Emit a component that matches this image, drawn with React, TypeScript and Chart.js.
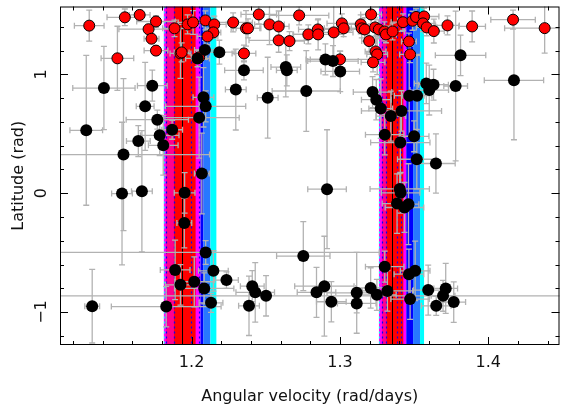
import { useEffect, useRef } from "react";
import { Chart, registerables } from "chart.js";
Chart.register(...registerables);

// Axis ranges
const X_MIN = 1.1113;
const X_MAX = 1.448;
const Y_MIN = -1.277;
const Y_MAX = 1.571;

const xMajorTicks = [1.2, 1.3, 1.4];
const xTickLabels = ["1.2", "1.3", "1.4"];
const xMinorTicks = [1.12, 1.14, 1.16, 1.18, 1.22, 1.24, 1.26, 1.28, 1.32, 1.34, 1.36, 1.38, 1.42, 1.44];
const yMajorTicks = [-1, 0, 1];
const yTickLabels = ["\u22121", "0", "1"];
const yMinorTicks = [-1.2, -0.8, -0.6, -0.4, -0.2, 0.2, 0.4, 0.6, 0.8, 1.2, 1.4];

const xTitle = "Angular velocity (rad/days)";
const yTitle = "Latitude (rad)";

// Vertical bands: [from, to, colour]
const bands: [number, number, string][] = [
  [1.1813, 1.206, "#FF00FF"],
  [1.1827, 1.188, "#FF0090"],
  [1.188, 1.2027, "#FF0000"],
  [1.206, 1.208, "#0000FF"],
  [1.208, 1.2127, "#2878FF"],
  [1.2127, 1.2167, "#00FFFF"],
  [1.3263, 1.3447, "#FF00FF"],
  [1.3283, 1.3313, "#FF0090"],
  [1.3313, 1.3427, "#FF0000"],
  [1.3447, 1.3493, "#0000FF"],
  [1.3493, 1.354, "#2878FF"],
  [1.354, 1.3567, "#00FFFF"],
];
const centreLines = [1.1933, 1.3353];
const dottedBlueLines = [1.1825, 1.188, 1.1993, 1.2047, 1.3283, 1.3313, 1.3387, 1.3413];
const dottedCyanLines = [1.1813, 1.3263];

// [x, y, xErr, yErr]
const redPoints: number[][] = [
  [1.131, 1.41, 0.01, 0.13],
  [1.155, 1.48, 0.012, 0.07],
  [1.165, 1.5, 0.007, 0.04],
  [1.176, 1.445, 0.013, 0.05],
  [1.171, 1.38, 0.02, 0.04],
  [1.173, 1.3, 0.005, 0.04],
  [1.176, 1.2, 0.008, 0.04],
  [1.15, 1.135, 0.011, 0.27],
  [1.1885, 1.387, 0.008, 0.07],
  [1.1925, 1.176, 0.007, 0.21],
  [1.1933, 1.185, 0.005, 0.08],
  [1.1973, 1.42, 0.007, 0.08],
  [1.201, 1.437, 0.01, 0.1],
  [1.2093, 1.454, 0.007, 0.08],
  [1.2153, 1.42, 0.008, 0.07],
  [1.2147, 1.353, 0.005, 0.05],
  [1.2107, 1.319, 0.007, 0.07],
  [1.2051, 1.143, 0.005, 0.05],
  [1.228, 1.437, 0.013, 0.08],
  [1.2367, 1.387, 0.01, 0.15],
  [1.238, 1.387, 0.008, 0.08],
  [1.2353, 1.176, 0.008, 0.07],
  [1.2453, 1.504, 0.012, 0.08],
  [1.2525, 1.42, 0.01, 0.17],
  [1.2587, 1.403, 0.007, 0.13],
  [1.2587, 1.286, 0.02, 0.1],
  [1.266, 1.28, 0.01, 0.08],
  [1.2725, 1.496, 0.02, 0.08],
  [1.2787, 1.336, 0.01, 0.08],
  [1.2851, 1.378, 0.013, 0.08],
  [1.2853, 1.336, 0.017, 0.13],
  [1.2958, 1.353, 0.013, 0.25],
  [1.3013, 1.429, 0.01, 0.08],
  [1.3025, 1.387, 0.013, 0.07],
  [1.3, 1.126, 0.02, 0.07],
  [1.314, 1.42, 0.013, 0.08],
  [1.3147, 1.387, 0.007, 0.08],
  [1.3167, 1.378, 0.01, 0.1],
  [1.321, 1.504, 0.007, 0.08],
  [1.3197, 1.28, 0.005, 0.1],
  [1.324, 1.193, 0.007, 0.13],
  [1.3251, 1.168, 0.007, 0.17],
  [1.3223, 1.101, 0.008, 0.08],
  [1.3237, 1.395, 0.01, 0.08],
  [1.3262, 1.378, 0.007, 0.08],
  [1.33, 1.361, 0.005, 0.08],
  [1.331, 1.336, 0.007, 0.07],
  [1.3355, 1.361, 0.008, 0.07],
  [1.3425, 1.439, 0.008, 0.07],
  [1.3489, 1.451, 0.01, 0.08],
  [1.3513, 1.483, 0.005, 0.07],
  [1.3567, 1.487, 0.01, 0.07],
  [1.356, 1.429, 0.008, 0.07],
  [1.3585, 1.395, 0.007, 0.07],
  [1.3633, 1.364, 0.007, 0.1],
  [1.3725, 1.412, 0.008, 0.08],
  [1.3891, 1.403, 0.009, 0.13],
  [1.4167, 1.46, 0.015, 0.08],
  [1.438, 1.389, 0.027, 0.21],
  [1.3465, 1.277, 0.005, 0.07],
  [1.3473, 1.168, 0.007, 0.07],
];

const blackPoints: number[][] = [
  [1.1409, 0.885, 0.021, 0.35],
  [1.1735, 0.905, 0.01, 0.13],
  [1.1687, 0.731, 0.006, 0.37],
  [1.1769, 0.619, 0.021, 0.08],
  [1.129, 0.529, 0.011, 0.63],
  [1.1869, 0.534, 0.007, 0.08],
  [1.1785, 0.487, 0.013, 0.17],
  [1.1641, 0.439, 0.008, 0.13],
  [1.1809, 0.403, 0.01, 0.25],
  [1.1541, 0.325, 0.058, 0.64],
  [1.1531, -0.003, 0.007, 0.6],
  [1.1665, 0.017, 0.007, 0.51],
  [1.1953, 0.003, 0.007, 0.17],
  [1.204, 1.134, 0.008, 0.07],
  [1.209, 1.206, 0.007, 0.08],
  [1.2187, 1.187, 0.01, 0.1],
  [1.2353, 1.034, 0.013, 0.08],
  [1.2298, 0.872, 0.007, 0.34],
  [1.208, 0.807, 0.007, 0.25],
  [1.2095, 0.731, 0.027, 0.13],
  [1.2051, 0.636, 0.027, 0.34],
  [1.2069, 0.166, 0.005, 0.34],
  [1.1951, -0.25, 0.005, 0.21],
  [1.2095, -0.498, 0.117, 0.1],
  [1.1889, -0.645, 0.01, 0.25],
  [1.2147, -0.653, 0.01, 0.17],
  [1.2235, -0.731, 0.008, 0.07],
  [1.1925, -0.771, 0.01, 0.17],
  [1.2018, -0.745, 0.013, 0.21],
  [1.2085, -0.801, 0.02, 0.13],
  [1.2131, -0.922, 0.008, 0.08],
  [1.1829, -0.954, 0.037, 0.17],
  [1.133, -0.95, 0.005, 0.31],
  [1.2635, 1.061, 0.01, 0.25],
  [1.2642, 1.034, 0.007, 0.13],
  [1.2513, 0.804, 0.007, 0.34],
  [1.2773, 0.86, 0.023, 0.34],
  [1.2902, 1.126, 0.013, 0.13],
  [1.2953, 1.112, 0.017, 0.13],
  [1.3002, 1.025, 0.013, 0.17],
  [1.322, 0.851, 0.013, 0.13],
  [1.3245, 0.787, 0.01, 0.17],
  [1.3275, 0.712, 0.008, 0.25],
  [1.3343, 0.649, 0.01, 0.21],
  [1.3415, 0.692, 0.027, 0.17],
  [1.3467, 0.821, 0.01, 0.34],
  [1.352, 0.821, 0.01, 0.34],
  [1.3582, 0.924, 0.008, 0.17],
  [1.3602, 0.868, 0.013, 0.21],
  [1.3631, 0.913, 0.01, 0.13],
  [1.3302, 0.493, 0.013, 0.17],
  [1.3407, 0.426, 0.02, 0.25],
  [1.35, 0.479, 0.01, 0.13],
  [1.3518, 0.286, 0.013, 0.25],
  [1.3647, 0.25, 0.013, 0.25],
  [1.3403, 0.036, 0.02, 0.13],
  [1.3409, 0.003, 0.013, 0.17],
  [1.3385, -0.087, 0.01, 0.25],
  [1.3435, -0.12, 0.013, 0.21],
  [1.3462, -0.092, 0.007, 0.34],
  [1.3302, -0.618, 0.013, 0.13],
  [1.3465, -0.681, 0.01, 0.21],
  [1.3507, -0.653, 0.01, 0.25],
  [1.3207, -0.797, 0.01, 0.17],
  [1.3249, -0.855, 0.013, 0.13],
  [1.332, -0.822, 0.017, 0.17],
  [1.3473, -0.891, 0.013, 0.17],
  [1.3595, -0.815, 0.01, 0.21],
  [1.3649, -0.947, 0.01, 0.08],
  [1.3695, -0.863, 0.008, 0.13],
  [1.3713, -0.801, 0.008, 0.21],
  [1.3813, 1.16, 0.017, 0.17],
  [1.4173, 0.95, 0.02, 0.5],
  [1.378, 0.902, 0.008, 0.63],
  [1.2409, -0.782, 0.008, 0.13],
  [1.2429, -0.834, 0.013, 0.25],
  [1.2502, -0.863, 0.2, 0.17],
  [1.2387, -0.947, 0.007, 0.25],
  [1.2753, -0.529, 0.018, 0.29],
  [1.2842, -0.834, 0.013, 0.21],
  [1.2895, -0.782, 0.02, 0.42],
  [1.2942, -0.913, 0.01, 0.17],
  [1.3113, -0.838, 0.02, 0.34],
  [1.3113, -0.927, 0.013, 0.08],
  [1.2913, 0.034, 0.013, 0.5],
  [1.3767, -0.916, 0.008, 0.17],
];

const FONT = '16px "DejaVu Sans", sans-serif';

const decorPlugin = {
  id: "decor",
  beforeDatasetsDraw(chart: any) {
    const { ctx, chartArea: a, scales } = chart;
    const xs = scales.x;
    const ys = scales.y;
    ctx.save();
    ctx.beginPath();
    ctx.rect(a.left, a.top, a.right - a.left, a.bottom - a.top);
    ctx.clip();
    // bands
    for (const [f, t, c] of bands) {
      const x0 = xs.getPixelForValue(f);
      const x1 = xs.getPixelForValue(t);
      ctx.fillStyle = c;
      ctx.fillRect(x0, a.top, x1 - x0, a.bottom - a.top);
    }
    ctx.lineWidth = 1.2;
    ctx.setLineDash([2, 3]);
    ctx.strokeStyle = "#0000FF";
    for (const v of dottedBlueLines) {
      const x = Math.round(xs.getPixelForValue(v)) + 0.5;
      ctx.beginPath();
      ctx.moveTo(x, a.top);
      ctx.lineTo(x, a.bottom);
      ctx.stroke();
    }
    ctx.strokeStyle = "#00FFFF";
    for (const v of dottedCyanLines) {
      const x = Math.round(xs.getPixelForValue(v)) + 0.5;
      ctx.beginPath();
      ctx.moveTo(x, a.top);
      ctx.lineTo(x, a.bottom);
      ctx.stroke();
    }
    ctx.setLineDash([]);
    ctx.strokeStyle = "#000000";
    ctx.lineWidth = 1;
    for (const v of centreLines) {
      const x = Math.round(xs.getPixelForValue(v)) + 0.5;
      ctx.beginPath();
      ctx.moveTo(x, a.top);
      ctx.lineTo(x, a.bottom);
      ctx.stroke();
    }
    // error bars
    ctx.strokeStyle = "rgb(178,178,178)";
    ctx.lineWidth = 1.3;
    const cap = 3;
    for (const p of [...redPoints, ...blackPoints]) {
      const [x, y, ex, ey] = p;
      const px = xs.getPixelForValue(x);
      const py = ys.getPixelForValue(y);
      const xl = xs.getPixelForValue(x - ex);
      const xr = xs.getPixelForValue(x + ex);
      const yt = ys.getPixelForValue(y + ey);
      const yb = ys.getPixelForValue(y - ey);
      ctx.beginPath();
      ctx.moveTo(xl, py);
      ctx.lineTo(xr, py);
      ctx.moveTo(xl, py - cap);
      ctx.lineTo(xl, py + cap);
      ctx.moveTo(xr, py - cap);
      ctx.lineTo(xr, py + cap);
      ctx.moveTo(px, yt);
      ctx.lineTo(px, yb);
      ctx.moveTo(px - cap, yt);
      ctx.lineTo(px + cap, yt);
      ctx.moveTo(px - cap, yb);
      ctx.lineTo(px + cap, yb);
      ctx.stroke();
    }
    ctx.restore();
  },
  afterDraw(chart: any) {
    const { ctx, chartArea: a, scales } = chart;
    const xs = scales.x;
    const ys = scales.y;
    ctx.save();
    ctx.strokeStyle = "#000";
    ctx.lineWidth = 1;
    ctx.strokeRect(a.left + 0.5, a.top + 0.5, a.right - a.left - 1, a.bottom - a.top - 1);
    const major = 8;
    const minor = 4;
    ctx.beginPath();
    const xt = (v: number, len: number) => {
      const x = Math.round(xs.getPixelForValue(v)) + 0.5;
      ctx.moveTo(x, a.bottom);
      ctx.lineTo(x, a.bottom - len);
      ctx.moveTo(x, a.top);
      ctx.lineTo(x, a.top + len);
    };
    const yt = (v: number, len: number) => {
      const y = Math.round(ys.getPixelForValue(v)) + 0.5;
      ctx.moveTo(a.left, y);
      ctx.lineTo(a.left + len, y);
      ctx.moveTo(a.right, y);
      ctx.lineTo(a.right - len, y);
    };
    xMajorTicks.forEach((v) => xt(v, major));
    xMinorTicks.forEach((v) => xt(v, minor));
    yMajorTicks.forEach((v) => yt(v, major));
    yMinorTicks.forEach((v) => yt(v, minor));
    ctx.stroke();

    ctx.fillStyle = "#111";
    ctx.font = FONT;
    ctx.textAlign = "center";
    ctx.textBaseline = "alphabetic";
    xMajorTicks.forEach((v, i) => {
      ctx.fillText(xTickLabels[i], xs.getPixelForValue(v), a.bottom + 22);
    });
    ctx.fillText(xTitle, (a.left + a.right) / 2, 401);
    yMajorTicks.forEach((v, i) => {
      ctx.save();
      ctx.translate(46, ys.getPixelForValue(v));
      ctx.rotate(-Math.PI / 2);
      ctx.fillText(yTickLabels[i], 0, 0);
      ctx.restore();
    });
    ctx.save();
    ctx.translate(23, (a.top + a.bottom) / 2);
    ctx.rotate(-Math.PI / 2);
    ctx.fillText(yTitle, 0, 0);
    ctx.restore();
    ctx.restore();
  },
};

export default function App() {
  const ref = useRef<HTMLCanvasElement | null>(null);
  useEffect(() => {
    document.body.style.margin = "0";
    const canvas = ref.current;
    if (!canvas) return;
    const chart = new Chart(canvas, {
      type: "scatter",
      data: {
        datasets: [
          {
            label: "black",
            data: blackPoints.map((p) => ({ x: p[0], y: p[1] })),
            backgroundColor: "#000000",
            borderColor: "#000000",
            borderWidth: 0,
            pointRadius: 6,
          },
          {
            label: "red",
            data: redPoints.map((p) => ({ x: p[0], y: p[1] })),
            backgroundColor: "#FF0000",
            borderColor: "#000000",
            borderWidth: 1,
            pointRadius: 5.5,
          },
        ],
      },
      options: {
        animation: false,
        responsive: false,
        events: [],
        layout: { padding: { top: 6, right: 1, left: 0, bottom: 0 } },
        plugins: { legend: { display: false }, tooltip: { enabled: false } },
        scales: {
          x: {
            type: "linear",
            min: X_MIN,
            max: X_MAX,
            grid: { display: false },
            border: { display: false },
            ticks: { display: false },
            afterFit: (s: any) => {
              s.height = 62;
            },
          },
          y: {
            type: "linear",
            min: Y_MIN,
            max: Y_MAX,
            grid: { display: false },
            border: { display: false },
            ticks: { display: false },
            afterFit: (s: any) => {
              s.width = 60;
            },
          },
        },
      },
      plugins: [decorPlugin],
    });
    return () => chart.destroy();
  }, []);
  return (
    <div style={{ width: 566, height: 407 }}>
      <canvas ref={ref} width={566} height={407} style={{ display: "block" }} />
    </div>
  );
}
